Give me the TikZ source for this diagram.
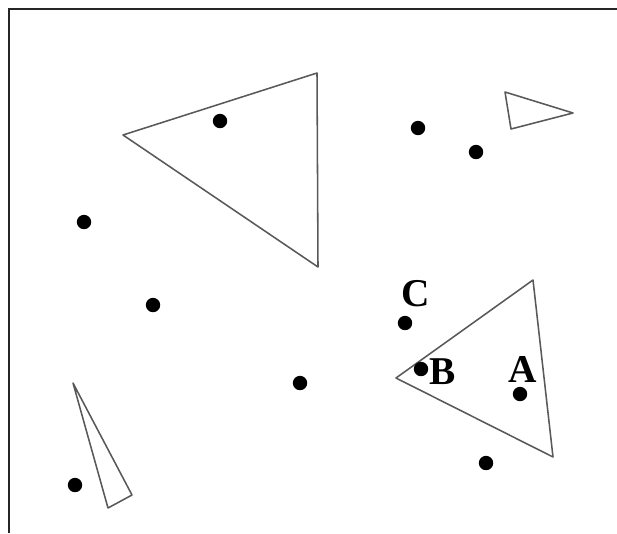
\documentclass[tikz,border=0pt]{standalone}
\usepackage{fontspec}
\setmainfont{Liberation Serif}
\usetikzlibrary{positioning}

\begin{document}
\begin{tikzpicture}[x=0.025cm, y=-0.025cm,
		tri/.style={draw=black!65, line width=1.1pt, line join=round},
		dot/.style={circle, fill=black, inner sep=0pt, minimum size=0.36cm},
		lbl/.style={font=\fontsize{28}{30}\selectfont\bfseries, inner sep=0pt}]
		\useasboundingbox (0,0) rectangle (617,533);
		\draw[line width=1.4pt, black!85] (9,533) -- (9,9) -- (617,9);
		
		% triangles
		\draw[tri] (123,135) -- (317,73) -- (318,267) -- cycle;
		\draw[tri] (505,92) -- (573,113) -- (511,129) -- cycle;
		\draw[tri] (396,378) -- (533,280) -- (553,457) -- cycle;
		\draw[tri] (73,383) -- (132,495) -- (108,508) -- cycle;
		
		% points
		\node[dot] (p1) at (220,121) {};
		\node[dot] (p2) at (418,128) {};
		\node[dot] (p3) at (476,152) {};
		\node[dot] (p4) at (84,222) {};
		\node[dot] (p5) at (153,305) {};
		\node[dot] (c) at (405,323) {};
		\node[dot] (b) at (421,369) {};
		\node[dot] (p8) at (300,383) {};
		\node[dot] (a) at (520,394) {};
		\node[dot] (p10) at (486,463) {};
		\node[dot] (p11) at (75,485) {};
		
		\node[lbl] (lc) at (416,294) {C};
		\node[lbl] (lb) at (443,372) {B};
		\node[lbl] (la) at (523,369) {A};
	\end{tikzpicture}
\end{document}
